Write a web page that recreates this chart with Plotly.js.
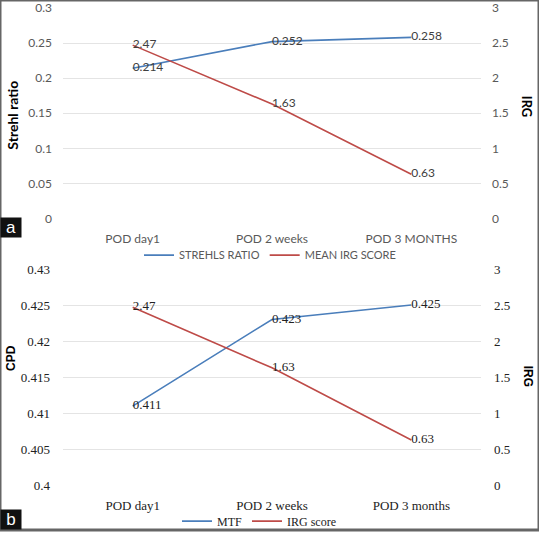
<!DOCTYPE html>
<html>
<head>
<meta charset="utf-8">
<script src="https://cdn.plot.ly/plotly-3.0.1.min.js"></script>
<style>html,body{margin:0;padding:0;background:#fff;}#chart{width:539px;height:536px;}</style>
</head>
<body>
<div id="chart"></div>
<script>
// Panel a
const catsA = ["POD day1", "POD 2 weeks", "POD 3 MONTHS"];
const strehl = [0.214, 0.252, 0.258];
const irgA = [2.47, 1.63, 0.63];
// Panel b
const catsB = ["POD day1", "POD 2 weeks", "POD 3 months"];
const mtf = [0.411, 0.423, 0.425];
const irgB = [2.47, 1.63, 0.63];

const BLUE = "#4a7ebb";
const RED = "#be4b48";
const SANS = "Lato, 'Liberation Sans', sans-serif";
const SERIF = "Liberation Serif";

const traces = [
  {x: catsA, y: strehl, name: "STREHLS RATIO", type: "scatter", mode: "lines+text",
   xaxis: "x", yaxis: "y", line: {color: BLUE, width: 1.6},
   text: strehl.map(String), textposition: "middle right",
   textfont: {family: SANS, size: 12, color: "#404040"}, legend: "legend", cliponaxis: false},
  {x: catsA, y: irgA, name: "MEAN IRG SCORE", type: "scatter", mode: "lines+text",
   xaxis: "x", yaxis: "y2", line: {color: RED, width: 1.6},
   text: irgA.map(String), textposition: "middle right",
   textfont: {family: SANS, size: 12, color: "#404040"}, legend: "legend", cliponaxis: false},
  {x: catsB, y: mtf, name: "MTF", type: "scatter", mode: "lines+text",
   xaxis: "x2", yaxis: "y3", line: {color: BLUE, width: 1.6},
   text: mtf.map(String), textposition: "middle right",
   textfont: {family: SERIF, size: 13, color: "#222"}, legend: "legend2", cliponaxis: false},
  {x: catsB, y: irgB, name: "IRG score", type: "scatter", mode: "lines+text",
   xaxis: "x2", yaxis: "y4", line: {color: RED, width: 1.6},
   text: irgB.map(String), textposition: "middle right",
   textfont: {family: SERIF, size: 13, color: "#222"}, legend: "legend2", cliponaxis: false}
];

const W = 539, H = 536;
const xd = [63 / W, 481 / W];
const yA = [1 - 221 / H, 1 - 8 / H];
const yB = [1 - 491 / H, 1 - 272 / H];
const grid = "#e4e4e4";

const layout = {
  width: W, height: H,
  margin: {l: 0, r: 0, t: 0, b: 0},
  paper_bgcolor: "#fff", plot_bgcolor: "#fff",
  showlegend: true,
  xaxis: {domain: xd, anchor: "y", type: "category", range: [-0.5, 2.5],
    showgrid: false, zeroline: false, showline: false, ticks: "",
    tickfont: {family: SANS, size: 12, color: "#595959"}, ticklabelstandoff: 11},
  yaxis: {domain: yA, anchor: "x", range: [0, 0.3], dtick: 0.05,
    showgrid: true, gridcolor: grid, zeroline: false, showline: false,
    tickfont: {family: SANS, size: 12, color: "#595959"}, ticklabelstandoff: 10},
  yaxis2: {overlaying: "y", side: "right", anchor: "x", range: [0, 3], dtick: 0.5,
    showgrid: false, zeroline: false, showline: false,
    tickfont: {family: SANS, size: 12, color: "#595959"}, ticklabelstandoff: 10},
  xaxis2: {domain: xd, anchor: "y3", type: "category", range: [-0.5, 2.5],
    showgrid: false, zeroline: false, showline: false, ticks: "",
    tickfont: {family: SERIF, size: 13, color: "#222"}, ticklabelstandoff: 10},
  yaxis3: {domain: yB, anchor: "x2", range: [0.4, 0.43], dtick: 0.005,
    showgrid: true, gridcolor: grid, zeroline: false, showline: false,
    tickfont: {family: SERIF, size: 13, color: "#222"}, ticklabelstandoff: 12},
  yaxis4: {overlaying: "y3", side: "right", anchor: "x2", range: [0, 3], dtick: 0.5,
    showgrid: false, zeroline: false, showline: false,
    tickfont: {family: SERIF, size: 13, color: "#222"}, ticklabelstandoff: 12},
  legend: {orientation: "h", x: 270 / W, y: 1 - 258 / H, xanchor: "center", yanchor: "middle",
    font: {family: SANS, size: 11, color: "#595959"}, itemwidth: 30, bgcolor: "rgba(0,0,0,0)"},
  legend2: {orientation: "h", x: 259 / W, y: 1 - 527 / H, xanchor: "center", yanchor: "middle",
    font: {family: SERIF, size: 12, color: "#222"}, itemwidth: 30, bgcolor: "rgba(0,0,0,0)"},
  annotations: [
    {text: "<b>Strehl ratio</b>", xref: "paper", yref: "paper", x: 13 / W, y: 1 - 117 / H,
     xanchor: "center", yanchor: "middle",
     textangle: -90, showarrow: false, font: {family: SANS, size: 14, color: "#000"}},
    {text: "<b>IRG</b>", xref: "paper", yref: "paper", x: 527 / W, y: 1 - 108 / H,
     xanchor: "center", yanchor: "middle",
     textangle: 90, showarrow: false, font: {family: SANS, size: 13, color: "#000"}},
    {text: "<b>CPD</b>", xref: "paper", yref: "paper", x: 11 / W, y: 1 - 362 / H,
     xanchor: "center", yanchor: "middle",
     textangle: -90, showarrow: false, font: {family: "Liberation Sans", size: 12, color: "#000"}},
    {text: "<b>IRG</b>", xref: "paper", yref: "paper", x: 528 / W, y: 1 - 380 / H,
     xanchor: "center", yanchor: "middle",
     textangle: 90, showarrow: false, font: {family: "Liberation Sans", size: 12, color: "#000"}},
    {text: "a", xref: "paper", yref: "paper", x: 0, y: 1 - 230 / H, xanchor: "left", yanchor: "middle",
     showarrow: false, bgcolor: "#111", borderpad: 2, width: 16, height: 15,
     font: {family: "Liberation Sans", size: 17, color: "#fff"}},
    {text: "b", xref: "paper", yref: "paper", x: 0, y: 0, xanchor: "left", yanchor: "bottom",
     showarrow: false, bgcolor: "#111", borderpad: 2, width: 16, height: 15,
     font: {family: "Liberation Sans", size: 17, color: "#fff"}}
  ],
  shapes: [
    {type: "rect", xref: "paper", yref: "paper", x0: 0, x1: 1, y0: 0, y1: 1,
     line: {color: "#666", width: 3}, fillcolor: "rgba(0,0,0,0)"}
  ]
};

Plotly.newPlot("chart", traces, layout, {displayModeBar: false, staticPlot: true});
</script>
</body>
</html>
